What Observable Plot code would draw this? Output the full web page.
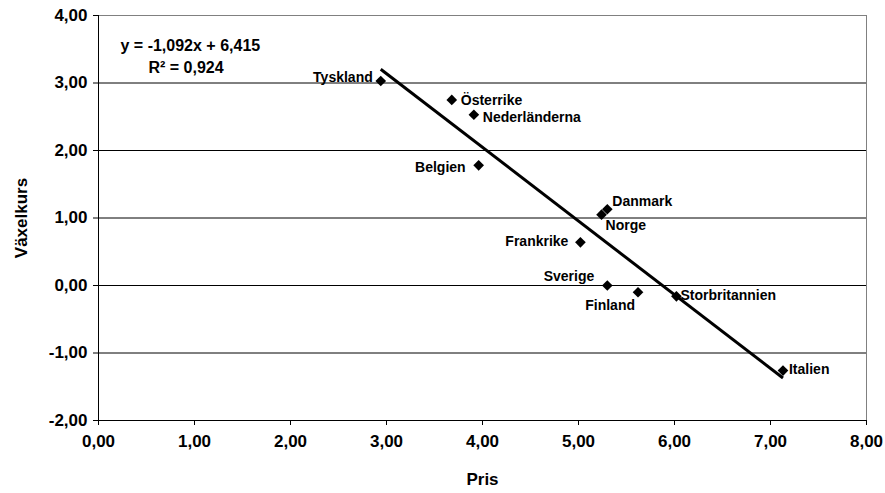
<!DOCTYPE html>
<html><head><meta charset="utf-8">
<script src="https://cdn.jsdelivr.net/npm/d3@7"></script>
<script src="https://cdn.jsdelivr.net/npm/@observablehq/plot@0.6"></script>
<style>
body{margin:0;background:#fff}
#chart svg{font-family:"Liberation Sans",Arial,sans-serif;font-weight:bold;background:#fff}
</style>
</head><body><div id="chart"></div>
<script>
// Data
const countries = ["Tyskland","Österrike","Nederländerna","Belgien","Danmark","Norge","Frankrike","Sverige","Finland","Storbritannien","Italien"];
const pris      = [2.94, 3.68, 3.91, 3.96, 5.30, 5.24, 5.02, 5.30, 5.62, 6.02, 7.13];
const vaxelkurs = [3.03, 2.75, 2.53, 1.78, 1.13, 1.05, 0.64, 0.00, -0.10, -0.16, -1.26];
const xTicks = [0,1,2,3,4,5,6,7,8];
const yTicks = [-2,-1,0,1,2,3,4];
const slope = -1.092, intercept = 6.415, r2 = 0.924;
const eqText = ["y = -1,092x + 6,415", "R² = 0,924"];

// Label placement (style)
const labelPlacement = {
  "Tyskland":      {anchor:"end",   dx:-8,  dy:-3},
  "Österrike":     {anchor:"start", dx:9,   dy:1},
  "Nederländerna": {anchor:"start", dx:9,   dy:3},
  "Belgien":       {anchor:"end",   dx:-13, dy:2},
  "Danmark":       {anchor:"start", dx:5,   dy:-8},
  "Norge":         {anchor:"start", dx:4,   dy:11},
  "Frankrike":     {anchor:"end",   dx:-12, dy:-1},
  "Sverige":       {anchor:"end",   dx:-13, dy:-9},
  "Finland":       {anchor:"end",   dx:-3,  dy:13},
  "Storbritannien":{anchor:"start", dx:4,   dy:-1},
  "Italien":       {anchor:"start", dx:6,   dy:-1}
};

const data = countries.map((c,i)=>({country:c, x:pris[i], y:vaxelkurs[i]}));
const xMin = d3.min(pris), xMax = d3.max(pris);
const trend = [{x1:xMin, y1:slope*xMin+intercept, x2:xMax, y2:slope*xMax+intercept}];
const fmt = d => d.toFixed(2).replace(".", ",");

const labelMarks = countries.map(c => {
  const p = labelPlacement[c];
  return Plot.text(data.filter(d=>d.country===c), {
    x:"x", y:"y", text:"country", textAnchor:p.anchor, dx:p.dx, dy:p.dy,
    fontSize:14, fontWeight:"bold", fill:"black"
  });
});

const chart = Plot.plot({
  width:885, height:493,
  marginLeft:98, marginRight:19, marginTop:15, marginBottom:73,
  x:{domain:[0,8]},
  y:{domain:[-2,4]},
  style:{fontSize:"17px", fontWeight:"bold", color:"black", background:"white"},
  marks:[
    Plot.ruleY(yTicks.filter(t=>t>-2 && t<4), {stroke:"black", strokeWidth:1}),
    Plot.frame({stroke:"#808080", strokeWidth:1}),
    Plot.ruleX([0], {stroke:"black", strokeWidth:1}),
    Plot.ruleY([-2], {stroke:"black", strokeWidth:1}),
    Plot.axisX(xTicks, {tickFormat:fmt, tickSize:5, tickPadding:9, fontSize:17, fontWeight:"bold",
      label:"Pris", labelAnchor:"center", labelArrow:"none", labelOffset:64}),
    Plot.axisY(yTicks, {tickFormat:fmt, tickSize:5, tickPadding:6, fontSize:17, fontWeight:"bold",
      label:"Växelkurs", labelAnchor:"center", labelArrow:"none", labelOffset:84}),
    Plot.link(trend, {x1:"x1", y1:"y1", x2:"x2", y2:"y2", stroke:"black", strokeWidth:3}),
    Plot.dot(data, {x:"x", y:"y", symbol:"diamond2", r:4.8, fill:"black", stroke:"none"}),
    ...labelMarks,
    Plot.text([eqText[0]], {frameAnchor:"top-left", dx:22, dy:24, textAnchor:"start", fontSize:16, fontWeight:"bold", text:d=>d}),
    Plot.text([eqText[1]], {frameAnchor:"top-left", dx:50, dy:46, textAnchor:"start", fontSize:16, fontWeight:"bold", text:d=>d})
  ]
});
document.getElementById("chart").appendChild(chart);
</script>
</body></html>
